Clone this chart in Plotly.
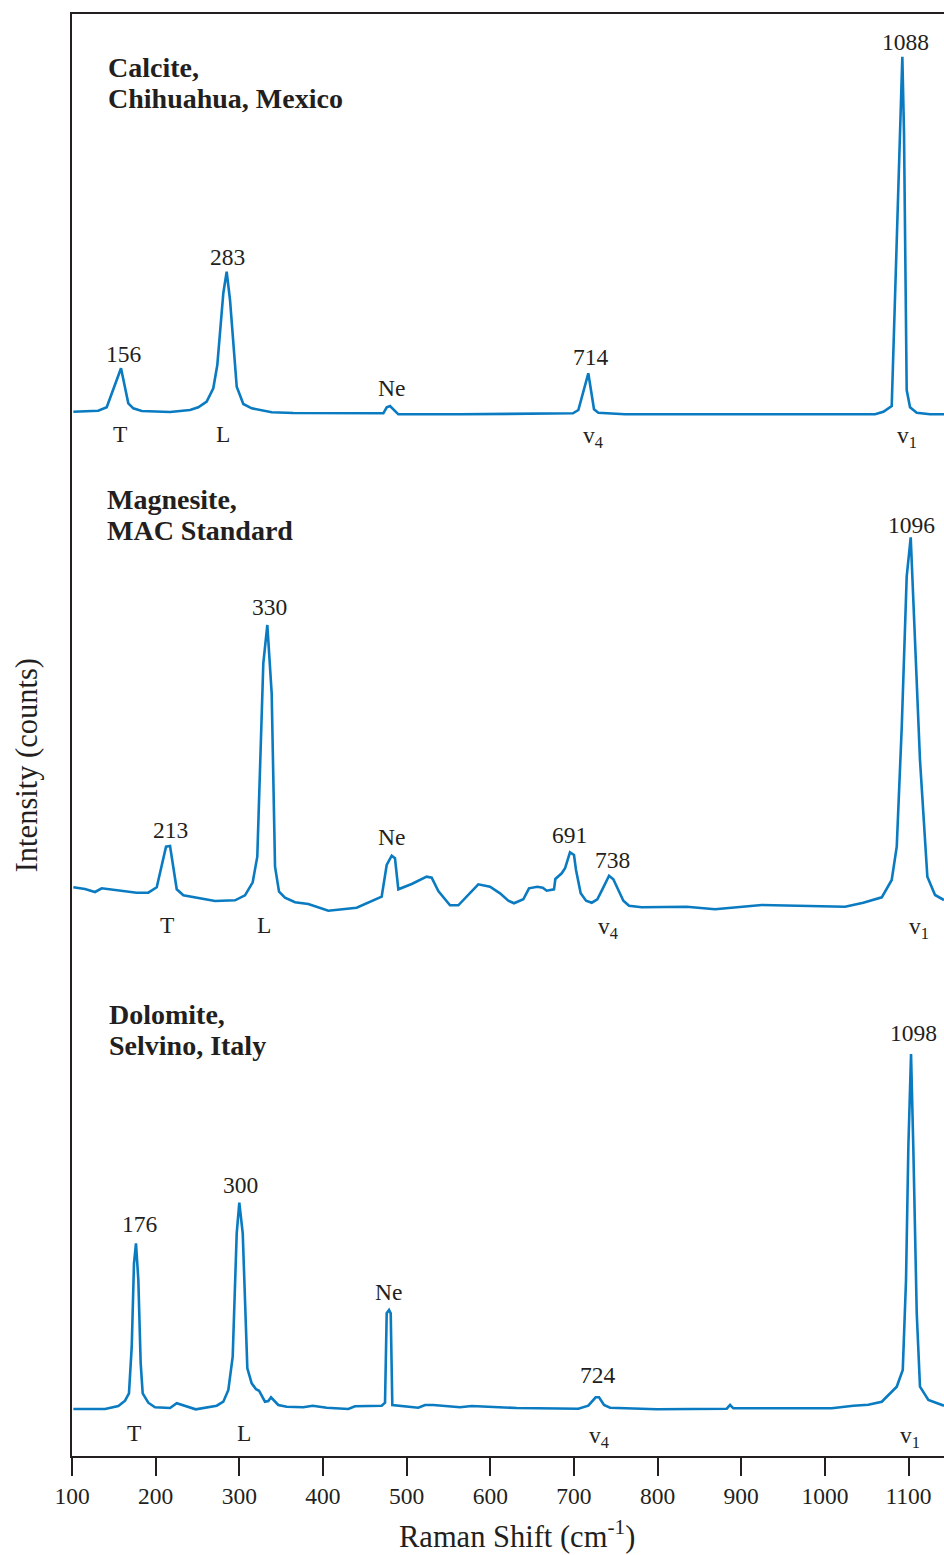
import plotly.graph_objects as go

# ---------------- data (Raman shift in cm-1, intensity in arbitrary counts) -------------
calcite_shift = [101.6, 131.4, 141.5, 158.6, 167.3, 173.3, 183.3, 217.2, 241.1, 251.0, 261.0,
                 268.9, 273.7, 280.9, 284.9, 288.9, 296.9, 304.8, 314.8, 326.8, 338.7, 364.6,
                 472.2, 476.2, 480.2, 490.1, 563.8, 698.9, 705.3, 717.2, 724.0, 729.2, 761.1,
                 1060.0, 1069.9, 1079.9, 1085.9, 1092.6, 1094.6, 1097.8, 1101.8, 1109.8, 1125.7, 1142.4]
calcite_int = [1.3, 2.3, 5.7, 44.7, 9.7, 4.7, 2.0, 1.0, 3.0, 5.7, 11.3,
               24.7, 48.0, 120.0, 141.3, 113.0, 26.3, 9.0, 4.7, 3.0, 0.7, 0.0,
               -0.3, 5.7, 7.0, -1.3, -1.3, -0.3, 3.0, 39.7, 3.7, 0.3, -1.3,
               -1.3, 1.3, 7.0, 180.0, 356.3, 280.0, 23.0, 5.7, 0.3, -1.3, -1.3]

magnesite_shift = [101.6, 115.5, 127.5, 135.5, 177.3, 191.2, 201.3, 212.4, 217.2, 225.2, 233.1,
                   271.0, 294.9, 306.8, 316.0, 321.5, 328.7, 333.5, 338.7, 342.7, 347.5, 354.6,
                   366.6, 382.5, 406.4, 440.3, 470.2, 476.2, 482.2, 486.1, 490.1, 506.1, 524.0,
                   530.0, 537.9, 551.9, 561.8, 585.7, 599.7, 611.7, 621.6, 628.4, 639.5, 646.3,
                   656.2, 662.7, 667.5, 676.2, 677.8, 685.4, 689.4, 695.3, 700.1, 702.5, 708.1,
                   714.5, 721.3, 728.0, 735.2, 742.0, 747.1, 759.1, 765.9, 781.0, 834.8, 868.7,
                   924.5, 1024.1, 1045.9, 1068.0, 1079.9, 1085.9, 1091.9, 1097.8, 1102.6, 1105.7,
                   1113.7, 1122.5, 1131.7, 1142.4]
magnesite_int = [23.7, 22.0, 19.0, 22.7, 18.3, 18.3, 23.7, 64.3, 65.0, 21.7, 15.7,
                 10.0, 10.7, 15.7, 28.7, 54.3, 247.7, 286.0, 217.7, 44.3, 19.3, 13.3,
                 8.7, 7.0, 0.3, 3.3, 14.3, 46.0, 55.3, 52.7, 21.7, 27.0, 34.3,
                 33.3, 20.0, 5.7, 5.7, 26.7, 24.3, 17.7, 10.3, 7.7, 11.7, 22.7,
                 24.3, 23.3, 20.3, 21.7, 32.0, 37.7, 42.7, 58.7, 56.0, 41.0, 17.7,
                 10.3, 8.3, 11.7, 23.7, 35.3, 31.7, 10.3, 5.3, 3.7, 4.3, 1.7,
                 6.0, 4.3, 8.3, 13.7, 31.0, 64.3, 184.3, 334.3, 373.7, 311.0,
                 151.0, 34.3, 16.0, 11.0]

dolomite_shift = [101.6, 139.5, 155.4, 163.4, 168.1, 171.4, 174.1, 176.5, 179.3, 182.1, 184.5,
                  191.2, 199.2, 217.2, 225.2, 235.1, 247.9, 273.0, 280.9, 286.9, 292.1, 296.9,
                  300.0, 304.1, 306.8, 309.6, 314.8, 320.0, 323.6, 330.7, 334.7, 337.9, 346.6,
                  356.7, 376.5, 387.7, 404.5, 430.3, 438.3, 470.2, 474.2, 476.2, 479.0, 481.0,
                  482.9, 514.0, 522.0, 531.9, 563.8, 577.8, 631.6, 705.3, 717.2, 726.0, 730.0,
                  736.0, 743.2, 799.0, 882.7, 886.7, 890.6, 1008.2, 1034.0, 1051.9, 1068.0,
                  1085.9, 1093.1, 1097.0, 1099.8, 1103.0, 1105.7, 1109.8, 1113.7, 1123.7, 1142.4]
dolomite_int = [1.0, 1.0, 4.0, 9.3, 16.7, 63.3, 146.7, 166.7, 130.0, 46.7, 16.7,
                7.3, 2.7, 2.0, 6.7, 4.3, 0.7, 4.3, 8.3, 20.0, 53.3, 176.7,
                207.3, 176.7, 113.3, 41.7, 26.7, 20.7, 19.3, 8.3, 9.0, 12.7, 5.0,
                3.3, 2.7, 4.3, 2.3, 1.0, 3.7, 4.3, 7.3, 96.7, 100.0, 96.7,
                5.0, 2.3, 5.0, 5.0, 2.7, 4.0, 2.0, 1.3, 4.3, 12.7, 12.7,
                5.0, 2.3, 0.7, 1.3, 5.0, 1.7, 1.7, 4.3, 5.3, 8.3,
                23.3, 40.0, 130.0, 263.3, 356.0, 263.3, 97.0, 23.3, 10.0, 4.3]

# stacking offsets for the three spectra (calcite, magnesite, dolomite)
offsets = [1043, 545, 46]

x_ticks = [100, 200, 300, 400, 500, 600, 700, 800, 900, 1000, 1100]

# ---------------- labels -------------------------------------------------------------
titles = [
    ("Calcite,", 140.6, 1389), ("Chihuahua, Mexico", 140.6, 1358),
    ("Magnesite,", 139.4, 957), ("MAC Standard", 139.4, 926),
    ("Dolomite,", 141.5, 442), ("Selvino, Italy", 141.5, 411),
]
peak_labels = [
    ("156", 162.2, 1102), ("283", 285.9, 1199), ("Ne", 482.5, 1068),
    ("714", 721.0, 1099), ("1088", 1095.8, 1414),
    ("T", 157.4, 1022), ("L", 280.5, 1022),
    ("v<sub>4</sub>", 723.4, 1019), ("v<sub>1</sub>", 1098.2, 1019),

    ("213", 217.8, 626), ("330", 336.3, 849), ("Ne", 482.5, 619),
    ("691", 695.3, 621), ("738", 746.7, 596), ("1096", 1103.6, 931),
    ("T", 213.2, 531), ("L", 329.2, 531),
    ("v<sub>4</sub>", 740.8, 528), ("v<sub>1</sub>", 1112.0, 528),

    ("176", 181.3, 232), ("300", 302.0, 271), ("Ne", 478.4, 164),
    ("724", 728.2, 81), ("1098", 1106.0, 423),
    ("T", 174.1, 23), ("L", 305.6, 23),
    ("v<sub>4</sub>", 729.4, 19), ("v<sub>1</sub>", 1101.2, 19),
]

LINE = "#0a7bc1"
INK = "#231f20"
FONT = "Liberation Serif"

fig = go.Figure()
for xs, ys, off in [(calcite_shift, calcite_int, offsets[0]),
                    (magnesite_shift, magnesite_int, offsets[1]),
                    (dolomite_shift, dolomite_int, offsets[2])]:
    fig.add_trace(go.Scatter(x=xs, y=[v + off for v in ys], mode="lines",
                             line=dict(color=LINE, width=2.6), hoverinfo="skip",
                             showlegend=False))

for text, x, y in titles:
    fig.add_annotation(x=x, y=y, text="<b>" + text + "</b>", showarrow=False,
                       xanchor="left", yanchor="middle",
                       font=dict(family=FONT, size=28, color=INK))
for text, x, y in peak_labels:
    fig.add_annotation(x=x, y=y, text=text, showarrow=False,
                       xanchor="center", yanchor="middle",
                       font=dict(family=FONT, size=23.5, color=INK))

# axis titles
fig.add_annotation(xref="paper", yref="paper", x=0.5, y=0, xshift=9, yshift=-78,
                   text="Raman Shift (cm<sup>-1</sup>)", showarrow=False,
                   xanchor="center", yanchor="middle",
                   font=dict(family=FONT, size=30.5, color=INK))
fig.add_annotation(xref="paper", yref="paper", x=0, y=0.479, xshift=-45,
                   text="Intensity (counts)", showarrow=False, textangle=-90,
                   xanchor="center", yanchor="middle",
                   font=dict(family=FONT, size=30.5, color=INK))

fig.update_layout(
    width=944, height=1555,
    margin=dict(l=72, r=0, t=14, b=99),
    paper_bgcolor="white", plot_bgcolor="white",
    showlegend=False,
)
fig.update_xaxes(range=[100, 1142.4], tickvals=x_ticks, ticktext=[str(v) for v in x_ticks],
                 showgrid=False, zeroline=False, showline=True, mirror=True,
                 linecolor=INK, linewidth=1.5,
                 ticks="outside", ticklen=18, tickwidth=2, tickcolor=INK,
                 tickfont=dict(family=FONT, size=23.5, color=INK))
fig.update_yaxes(range=[0, 1442], showgrid=False, zeroline=False, showline=True,
                 linecolor=INK, linewidth=1.5, showticklabels=False, ticks="")

fig.write_html("out.html")
